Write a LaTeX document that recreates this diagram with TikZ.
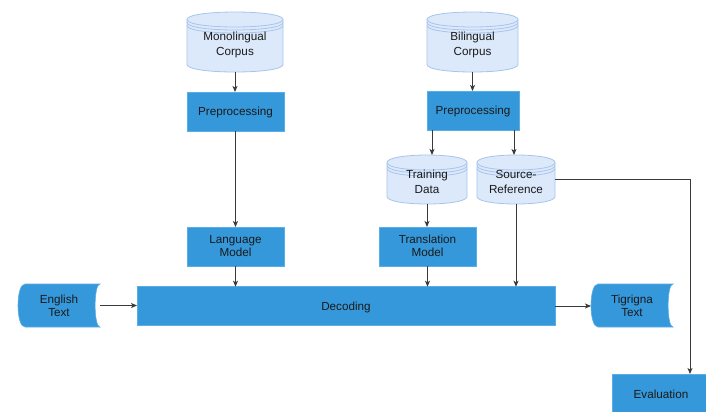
\documentclass[tikz,border=0pt]{standalone}
\usepackage{fontspec}
\setmainfont{Liberation Sans}
\usetikzlibrary{arrows.meta}
\definecolor{boxblue}{HTML}{3498DB}
\definecolor{boxedge}{HTML}{5AAEE6}
\definecolor{cylfill}{HTML}{DCE9FB}
\definecolor{cylline}{HTML}{A9C4EB}
\definecolor{txt}{HTML}{1A1A1A}
\definecolor{arr}{HTML}{3A3A3A}

\tikzset{
  lbl/.style={font=\fontsize{11.7bp}{13.5bp}\selectfont, text=txt, align=center, inner sep=0pt, outer sep=0pt},
  box/.style={lbl, fill=boxblue, draw=boxedge, line width=0.6bp},
  cylshape/.style={fill=cylfill, draw=cylline, line width=0.8bp},
  cylarc/.style={draw=cylline, line width=0.8bp},
  storedshape/.style={fill=boxblue, draw=boxedge, line width=0.6bp},
  conn/.style={draw=arr, line width=0.9bp, -{Stealth[length=6bp,width=5bp,inset=1.5bp]}},
}

% lowered multi-line label: shift, text
\newcommand\lowtext[2]{\raisebox{-#1}[\height][\depth]{\begin{tabular}{@{}c@{}}#2\end{tabular}}}

% name, left, top, right, bottom, text
\newcommand\mydstore[6]{%
  \pgfmathsetmacro\dsya{#3+7.5}%
  \pgfmathsetmacro\dsyb{#3-2.5}%
  \pgfmathsetmacro\dsyc{#5-7.5}%
  \pgfmathsetmacro\dsyd{#5+2.5}%
  \path[cylshape] (#2,\dsya) .. controls (#2,\dsyb) and (#4,\dsyb) .. (#4,\dsya)
     -- (#4,\dsyc) .. controls (#4,\dsyd) and (#2,\dsyd) .. (#2,\dsyc) -- cycle;
  \foreach \dd in {0,3,6} {
    \draw[cylarc] (#2,\dsya+\dd) .. controls (#2,\dsya+\dd+10) and (#4,\dsya+\dd+10) .. (#4,\dsya+\dd);
  }
  \node[lbl, font=\fontsize{11.7bp}{15bp}\selectfont, minimum width={(#4-#2)*1bp}, minimum height={(#5-#3)*1bp}] (#1)
     at ({(#2+#4)/2},{(#3+#5)/2}) {\lowtext{3bp}{#6}};
}

% name, left, top, right, bottom, text
\newcommand\mystored[6]{%
  \path[storedshape] (#2+7,#3) -- (#4,#3) .. controls (#4-6.5,#3) and (#4-6.5,#5) .. (#4,#5)
     -- (#2+7,#5) .. controls (#2-2.33,#5) and (#2-2.33,#3) .. (#2+7,#3) -- cycle;
  \node[lbl, minimum width={(#4-#2)*1bp}, minimum height={(#5-#3)*1bp}] (#1)
     at ({(#2+#4)/2},{(#3+#5)/2}) {\lowtext{2bp}{#6}};
}

\begin{document}
\begin{tikzpicture}[x=1bp,y=-1bp]
\useasboundingbox (0,0) rectangle (706,411);
\fill[white] (0,0) rectangle (706,411);

% data stores
\mydstore{mono}{187}{12}{283}{72}{Monolingual\\Corpus}
\mydstore{bi}{427}{12}{518}{72}{Bilingual\\Corpus}
\mydstore{td}{387}{155}{467}{204}{Training\\Data}
\mydstore{sr}{477}{155}{555}{204}{Source-\\Reference}

% process boxes
\node[box, minimum width=97bp, minimum height=39bp] (pp1) at (235.5,111.5) {\lowtext{1.5bp}{Preprocessing}};
\node[box, minimum width=92bp, minimum height=39bp] (pp2) at (473,110.5) {\lowtext{1.5bp}{Preprocessing}};
\node[box, minimum width=97bp, minimum height=39bp] (lm) at (235.5,246.5) {\lowtext{1bp}{Language\\Model}};
\node[box, minimum width=97bp, minimum height=39bp] (tm) at (427.5,246.5) {\lowtext{1bp}{Translation\\Model}};
\node[box, minimum width=418bp, minimum height=38.5bp] (dec) at (346,306) {\lowtext{1.5bp}{Decoding}};
\node[box, minimum width=98bp, minimum height=42bp] (eval) at (661,395) {\lowtext{1bp}{Evaluation}};

% stored data (text)
\mystored{eng}{18}{284}{100}{327}{English\\Text}
\mystored{tig}{591}{284}{673}{327}{Tigrigna\\Text}

% connectors
\draw[conn] (mono.south) -- (mono.south |- pp1.north);
\draw[conn] (pp1.south) -- (pp1.south |- lm.north);
\draw[conn] (lm.south) -- (lm.south |- dec.north);
\draw[conn] (bi.south) -- (bi.south |- pp2.north);
\draw[conn] ([xshift=5bp]pp2.south west) -- ([xshift=5bp]pp2.south west |- td.north);
\draw[conn] ([xshift=-5bp]pp2.south east) -- ([xshift=-5bp]pp2.south east |- sr.north);
\draw[conn] (td.south) -- (td.south |- tm.north);
\draw[conn] (tm.south) -- (tm.south |- dec.north);
\draw[conn] (sr.south) -- (sr.south |- dec.north);
\draw[conn] (sr.east) -| ([xshift=29bp]eval.north);
\draw[conn] (eng.east) -- (eng.east -| dec.west);
\draw[conn] (dec.east) -- (dec.east -| tig.west);
\end{tikzpicture}
\end{document}
